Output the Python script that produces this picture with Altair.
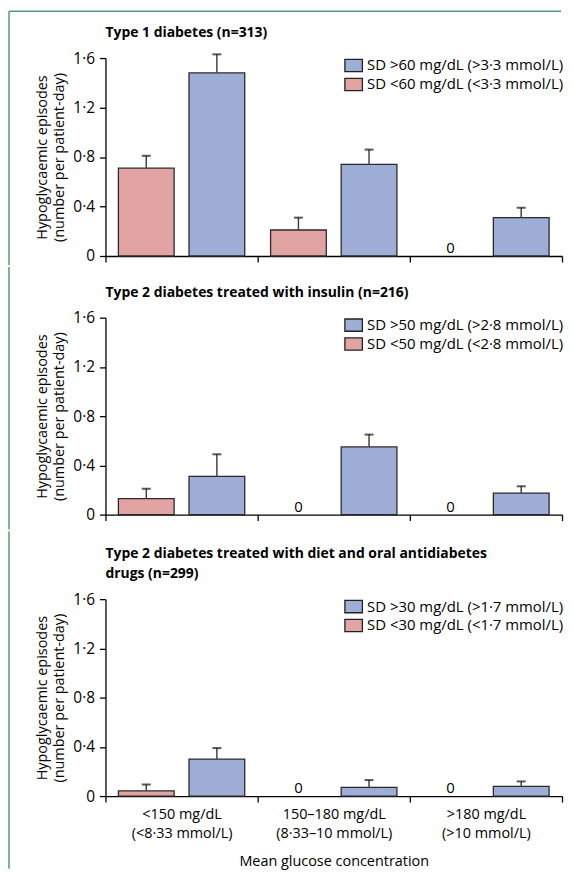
import altair as alt
import pandas as pd

categories = ["<150 mg/dL|(<8·33 mmol/L)", "150–180 mg/dL|(8·33–10 mmol/L)", ">180 mg/dL|(>10 mmol/L)"]
groups = ["low", "high"]
panel_titles = [
    ["Type 1 diabetes (n=313)"],
    ["Type 2 diabetes treated with insulin (n=216)"],
    ["Type 2 diabetes treated with diet and oral antidiabetes", "drugs (n=299)"],
]
high_labels = ["SD >60 mg/dL (>3·3 mmol/L)", "SD >50 mg/dL (>2·8 mmol/L)", "SD >30 mg/dL (>1·7 mmol/L)"]
low_labels = ["SD <60 mg/dL (<3·3 mmol/L)", "SD <50 mg/dL (<2·8 mmol/L)", "SD <30 mg/dL (<1·7 mmol/L)"]

low_values = [[0.71, 0.21, 0.0], [0.13, 0.0, 0.0], [0.043, 0.0, 0.0]]
low_errors = [[0.81, 0.31, None], [0.21, None, None], [0.094, None, None]]
high_values = [[1.48, 0.74, 0.31], [0.31, 0.55, 0.175], [0.30, 0.07, 0.078]]
high_errors = [[1.63, 0.86, 0.39], [0.49, 0.65, 0.23], [0.39, 0.13, 0.119]]

y_ticks = [0, 0.4, 0.8, 1.2, 1.6]
y_title = ["Hypoglycaemic episodes", "(number per patient-day)"]
x_title = "Mean glucose concentration"

BLUE = "#9eaed6"
RED = "#e2a4a2"
FRAME = "#4f9d78"
FONT = "Open Sans"

W = 459
heights = [199, 198, 198]
# frame segment extents above/below each plot area
frame_top = [-47, -51, -68]
frame_bottom = [199 + 9, 198 + 15, 271]
title_offsets = [-30, -34, -51]


def panel(i):
    rows = []
    for j, c in enumerate(categories):
        rows.append({"cat": c, "grp": "low", "series": low_labels[i],
                     "value": low_values[i][j], "err": low_errors[i][j]})
        rows.append({"cat": c, "grp": "high", "series": high_labels[i],
                     "value": high_values[i][j], "err": high_errors[i][j]})
    df = pd.DataFrame(rows)
    last = i == 2
    if last:
        xaxis = alt.Axis(title=x_title, labelExpr="split(datum.label, '|')", labelAngle=0,
                         labelFontSize=14.5, labelLineHeight=19, labelPadding=6,
                         tickBand="extent", tickSize=6, titleFontSize=14.5,
                         titleFontWeight="normal", titlePadding=14)
    else:
        xaxis = alt.Axis(title=None, labels=False, tickBand="extent", tickSize=6)
    yaxis = alt.Axis(values=y_ticks, title=y_title, titleFontSize=14.5, titleFontWeight="normal",
                     titleLineHeight=17.5, titlePadding=6, labelFontSize=15.5, labelPadding=5, tickSize=6,
                     labelExpr="datum.value == 0 ? '0' : replace(format(datum.value, '.1f'), '.', '·')")
    x = alt.X("cat:N", sort=categories,
              scale=alt.Scale(domain=categories, paddingInner=0, paddingOuter=0), axis=xaxis)
    xo = alt.XOffset("grp:N", sort=groups,
                     scale=alt.Scale(domain=groups, paddingInner=0.211, paddingOuter=0.183))
    yscale = alt.Scale(domain=[0, 1.6], nice=False)
    base = alt.Chart(df)
    bars = base.transform_filter("datum.value > 0").mark_bar(stroke="#2a2a2a", strokeWidth=1.3).encode(
        x=x, xOffset=xo,
        y=alt.Y("value:Q", scale=yscale, axis=yaxis),
        fill=alt.Fill("series:N", sort=[high_labels[i], low_labels[i]],
                      scale=alt.Scale(domain=[high_labels[i], low_labels[i]], range=[BLUE, RED]),
                      legend=alt.Legend(title=None, orient="top-right", offset=-2, padding=0,
                                        symbolType="M-1,-0.7H1V0.7H-1Z", symbolSize=310,
                                        symbolStrokeColor="#222", symbolStrokeWidth=1.3,
                                        symbolOpacity=1, labelFont=FONT, labelFontSize=15,
                                        labelColor="black", labelLimit=0, labelOffset=4,
                                        rowPadding=0)),
    )
    errs = base.transform_filter("isValid(datum.err)").mark_rule(color="#444", strokeWidth=1.5).encode(
        x=x, xOffset=xo,
        y=alt.Y("value:Q", scale=yscale, axis=yaxis), y2="err:Q",
    )
    caps = base.transform_filter("isValid(datum.err)").mark_tick(color="#111", thickness=2, size=9).encode(
        x=x, xOffset=xo,
        y=alt.Y("err:Q", scale=yscale, axis=yaxis),
    )
    zeros = base.transform_filter("datum.value == 0").mark_text(
        text="0", baseline="alphabetic", dy=-3, fontSize=15, font=FONT, color="black").encode(
        x=x, xOffset=xo,
        y=alt.Y("value:Q", scale=yscale, axis=yaxis),
    )
    one = alt.Chart(pd.DataFrame({"k": [0]}))
    vline = one.mark_rule(color=FRAME, strokeWidth=1.5).encode(
        x=alt.value(-97), y=alt.value(frame_top[i]), y2=alt.value(frame_bottom[i]))
    layers = [vline, bars, errs, caps, zeros]
    if i == 0:
        hline = one.mark_rule(color=FRAME, strokeWidth=1.5).encode(
            x=alt.value(-97), x2=alt.value(458), y=alt.value(frame_top[0]))
        layers.insert(0, hline)
    title = alt.TitleParams(text=panel_titles[i], anchor="start", frame="group", font=FONT,
                            fontSize=14, fontWeight="bold", color="black", lineHeight=21,
                            offset=title_offsets[i])
    return alt.layer(*layers).properties(width=W, height=heights[i], title=title)


chart = alt.vconcat(panel(0), panel(1), panel(2), spacing=0).resolve_scale(
    fill="independent", y="independent"
).resolve_legend(fill="independent").configure_view(stroke=None).configure_axis(
    labelFont=FONT, titleFont=FONT, labelColor="black", titleColor="black",
    domainColor="black", tickColor="black", grid=False, domainWidth=1.3, tickWidth=1.3
).properties(padding=0)

chart.save("out.html", embed_options={"renderer": "svg", "actions": False})
